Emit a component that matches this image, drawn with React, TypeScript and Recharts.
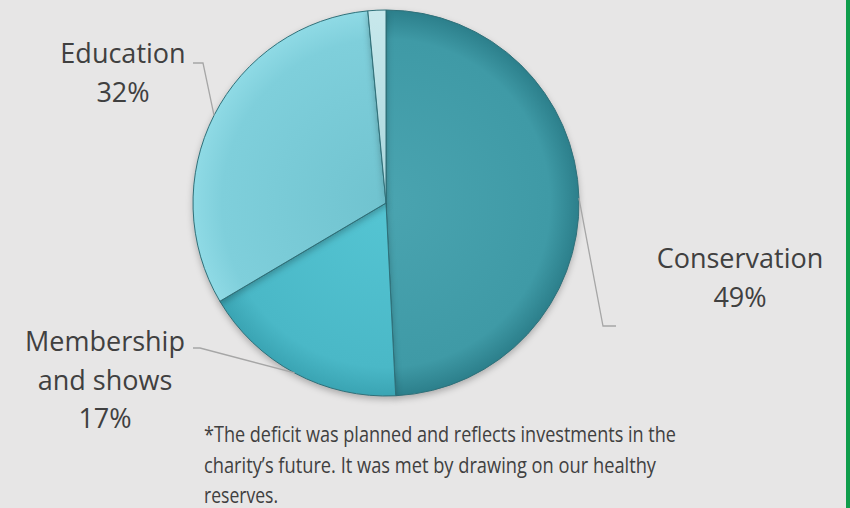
import { PieChart, Pie, Cell } from 'recharts'

// Spending split (percent of total expenditure)
const categories = ['Conservation', 'Membership and shows', 'Education', 'Other']
const values = [49.2, 17.3, 32.0, 1.5]
// Label text lines shown next to each slice (percentage appended below)
const labelText = [['Conservation'], ['Membership', 'and shows'], ['Education'], []]
const sliceColors = ['conservation', 'membership', 'education', 'other']

const footnote = [
  '*The deficit was planned and reflects investments in the',
  'charity\u2019s future. It was met by drawing on our healthy',
  'reserves.',
]

// Hand placed label boxes (text centre, first baseline, leader elbow and end)
const labelLayout = [
  { tx: 740, ty: 268, elbow: [603, 326], end: [616, 326] },
  { tx: 105, ty: 351, elbow: [200, 348], end: [193, 348] },
  { tx: 123, ty: 63, elbow: [203, 63], end: [193, 63] },
  null,
]

const RADIAN = Math.PI / 180
const total = values.reduce((a, b) => a + b, 0)
const data = categories.map((name, i) => ({ name, value: values[i] }))

const renderLabel = (props: any) => {
  const { cx, cy, midAngle, outerRadius, index } = props
  const layout = labelLayout[index]
  if (!layout) return null
  const sx = cx + outerRadius * Math.cos(-midAngle * RADIAN)
  const sy = cy + outerRadius * Math.sin(-midAngle * RADIAN)
  const lines = [...labelText[index], `${Math.round((values[index] / total) * 100)}%`]
  return (
    <g key={`lbl-${index}`}>
      <polyline
        points={`${sx},${sy} ${layout.elbow[0]},${layout.elbow[1]} ${layout.end[0]},${layout.end[1]}`}
        fill="none"
        stroke="#a6a6a6"
        strokeWidth={1.3}
      />
      <text textAnchor="middle" fill="#404040" fontSize={27} fontFamily="'Open Sans', sans-serif">
        {lines.map((l, i) => (
          <tspan key={i} x={layout.tx} y={layout.ty + i * 38.5}>
            {l}
          </tspan>
        ))}
      </text>
    </g>
  )
}

export default function App() {
  return (
    <div style={{ position: 'fixed', left: 0, top: 0, width: 850, height: 508, background: '#e7e6e6', overflow: 'hidden' }}>
      <style>{`.recharts-pie-sector { filter: drop-shadow(0px 3px 3px rgba(0,0,0,0.25)); }`}</style>
      <PieChart width={850} height={508} margin={{ top: 0, right: 0, bottom: 0, left: 0 }}>
        <defs>
          <radialGradient id="conservation" cx="386" cy="203" r="193" gradientUnits="userSpaceOnUse">
            <stop offset="0%" stopColor="#4aa4b0" />
            <stop offset="85%" stopColor="#3f9aa6" />
            <stop offset="100%" stopColor="#2c7f8b" />
          </radialGradient>
          <radialGradient id="membership" cx="386" cy="203" r="193" gradientUnits="userSpaceOnUse">
            <stop offset="0%" stopColor="#55c5d3" />
            <stop offset="85%" stopColor="#4ab8c7" />
            <stop offset="100%" stopColor="#3aa4b3" />
          </radialGradient>
          <radialGradient id="education" cx="386" cy="203" r="193" gradientUnits="userSpaceOnUse">
            <stop offset="0%" stopColor="#70c3cf" />
            <stop offset="85%" stopColor="#7fcfdb" />
            <stop offset="100%" stopColor="#8fdae5" />
          </radialGradient>
          <radialGradient id="other" cx="386" cy="203" r="193" gradientUnits="userSpaceOnUse">
            <stop offset="0%" stopColor="#a9d6dc" />
            <stop offset="100%" stopColor="#c8e8ec" />
          </radialGradient>
        </defs>
        <Pie
          data={data}
          dataKey="value"
          nameKey="name"
          cx={386}
          cy={203}
          outerRadius={193}
          startAngle={90}
          endAngle={-270}
          stroke="#2f7079"
          strokeWidth={1}
          label={renderLabel}
          labelLine={false}
          isAnimationActive={false}
        >
          {data.map((d, i) => (
            <Cell key={d.name} fill={`url(#${sliceColors[i]})`} />
          ))}
        </Pie>
      </PieChart>
      <svg width={850} height={508} style={{ position: 'absolute', left: 0, top: 0, pointerEvents: 'none' }}>
        {footnote.map((line, i) => (
          <text
            key={i}
            x={204}
            y={442 + i * 30.5}
            fill="#404040"
            fontSize={22}
            fontFamily="'Open Sans', sans-serif"
            textLength={[472, 452, 74][i]}
            lengthAdjust="spacingAndGlyphs"
          >
            {line}
          </text>
        ))}
        <rect x={846} y={0} width={4} height={508} fill="#0f9d4c" />
      </svg>
    </div>
  )
}
